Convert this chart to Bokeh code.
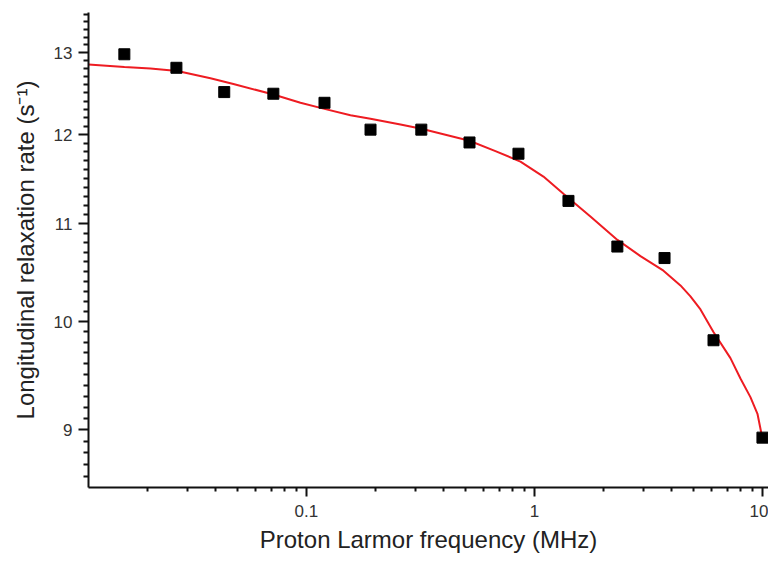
from bokeh.plotting import figure
from bokeh.models import Range1d, FixedTicker, NumeralTickFormatter
from bokeh.embed import file_html
from bokeh.resources import INLINE

# Measured data (squares)
freq_mhz = [0.0159, 0.0269, 0.0436, 0.0716, 0.120, 0.191, 0.319, 0.519, 0.851, 1.41, 2.31, 3.72, 6.10, 10.0]
rate = [12.98, 12.81, 12.51, 12.49, 12.38, 12.06, 12.06, 11.91, 11.78, 11.25, 10.76, 10.64, 9.82, 8.93]

# Fitted curve (red line)
fit_freq = [0.01107, 0.01591, 0.02069, 0.02717, 0.03793, 0.04783, 0.07165, 0.09413, 0.1187, 0.1560,
            0.1909, 0.2585, 0.3194, 0.4071, 0.5187, 0.6745, 0.8681, 1.095, 1.340, 1.760,
            2.312, 2.917, 3.680, 4.369, 4.833, 5.348, 6.097, 7.238, 8.008, 8.857, 9.509, 10.0]
fit_rate = [12.85, 12.82, 12.80, 12.77, 12.68, 12.61, 12.48, 12.38, 12.31, 12.23,
            12.19, 12.12, 12.07, 12.00, 11.93, 11.81, 11.69, 11.52, 11.33, 11.08,
            10.83, 10.66, 10.51, 10.36, 10.25, 10.12, 9.90, 9.65, 9.46, 9.29, 9.14, 8.92]

x_major = [0.1, 1, 10]
y_major = [9, 10, 11, 12, 13]

x_minor = [m * d for d in (0.01, 0.1, 1) for m in range(2, 10)]
y_minor = [round(8.5 + 0.1 * i, 2) for i in range(0, 51)]
y_minor = [v for v in y_minor if v not in y_major]

p = figure(width=768, height=558, x_axis_type="log", y_axis_type="log",
           x_range=Range1d(0.01107, 10.63), y_range=Range1d(8.506, 13.52),
           output_backend="svg", toolbar_location=None,
           min_border_left=88, min_border_top=12, min_border_right=0, min_border_bottom=71)

p.outline_line_color = None
p.xgrid.visible = False
p.ygrid.visible = False
p.background_fill_color = "white"
p.border_fill_color = "white"

p.line(fit_freq, fit_rate, line_color="#ee1c22", line_width=2)
p.scatter(freq_mhz, rate, marker="square", size=11, fill_color="black", line_color="black")

for ax in (p.xaxis[0], p.yaxis[0]):
    ax.axis_line_width = 2
    ax.axis_line_color = "#111111"
    ax.major_tick_line_width = 2
    ax.minor_tick_line_width = 2
    ax.major_tick_line_color = "#111111"
    ax.minor_tick_line_color = "#111111"
    ax.major_tick_in = 0
    ax.minor_tick_in = 0
    ax.major_label_text_font = "Liberation Sans"
    ax.major_label_text_color = "#333333"
    ax.major_label_text_font_size = "17px"
    ax.axis_label_text_font = "Liberation Sans"
    ax.axis_label_text_font_style = "normal"
    ax.axis_label_text_color = "#222222"
    ax.axis_label_text_font_size = "24px"
    ax.formatter = NumeralTickFormatter(format="0.[0]")

p.xaxis[0].ticker = FixedTicker(ticks=x_major, minor_ticks=x_minor)
p.yaxis[0].ticker = FixedTicker(ticks=y_major, minor_ticks=y_minor)

p.xaxis[0].major_tick_out = 9
p.xaxis[0].minor_tick_out = 4
p.yaxis[0].major_tick_out = 10
p.yaxis[0].minor_tick_out = 5

p.xaxis[0].major_label_standoff = 8
p.yaxis[0].major_label_standoff = 6
p.xaxis[0].axis_label_standoff = 6
p.yaxis[0].axis_label_standoff = 12

p.xaxis[0].axis_label = "Proton Larmor frequency (MHz)"
p.yaxis[0].axis_label = "Longitudinal relaxation rate (s\u207b\u00b9)"

open("out.html", "w").write(file_html(p, INLINE))
